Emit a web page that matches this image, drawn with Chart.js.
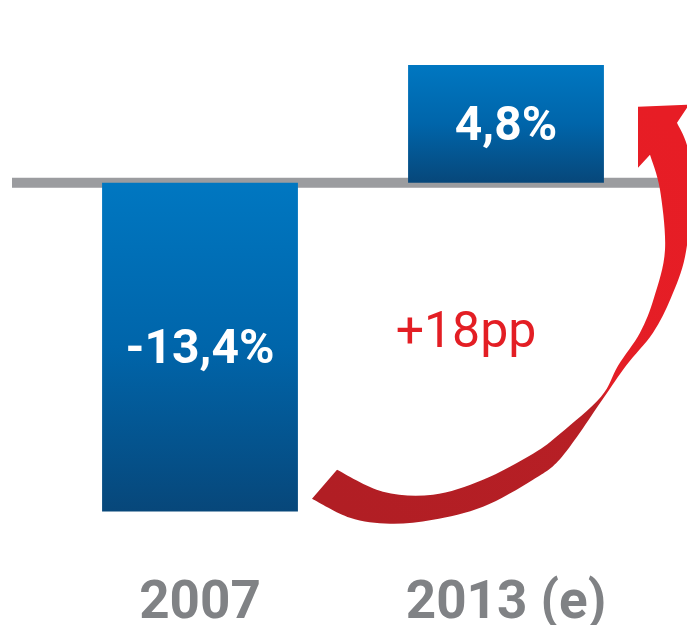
<!DOCTYPE html>
<html>
<head>
<meta charset="utf-8">
<script src="https://cdn.jsdelivr.net/npm/chart.js@4.4.1/dist/chart.umd.min.js"></script>
<style>
  html, body { margin: 0; padding: 0; background: #fff; }
  #wrap { width: 687px; height: 625px; position: relative; }
</style>
</head>
<body>
<div id="wrap"><canvas id="chart"></canvas></div>
<script>
const years = ['2007', '2013 (e)'];
const growth = [-13.4, 4.8];
const changeText = '+18pp';

const ctx = document.getElementById('chart');

function fmt(v) {
    return v.toFixed(1).replace('.', ',') + '%';
}

function barGradient(context) {
    const chart = context.chart;
    const y = chart.scales.y;
    if (!chart.chartArea || !y) return '#0072bc';
    const v = context.raw;
    const p1 = y.getPixelForValue(v), p0 = y.getPixelForValue(0);
    if (!isFinite(p1) || !isFinite(p0)) return '#0072bc';
    const g = chart.ctx.createLinearGradient(0, Math.min(p0, p1), 0, Math.max(p0, p1));
    g.addColorStop(0, '#0077c1');
    g.addColorStop(0.5, '#0065aa');
    g.addColorStop(1, '#07477a');
    return g;
}

// grey zero line, behind the bars
const zeroLine = {
    id: 'zeroLine',
    beforeDatasetsDraw(chart) {
        const c = chart.ctx;
        const a = chart.chartArea;
        const zy = chart.scales.y.getPixelForValue(0);
        c.save();
        c.fillStyle = '#9b9c9f';
        c.fillRect(a.left - 35, zy - 5, a.right - a.left + 41, 10);
        c.restore();
    }
};

// value labels inside the bars
const valueLabels = {
    id: 'valueLabels',
    afterDatasetsDraw(chart) {
        const c = chart.ctx;
        const meta = chart.getDatasetMeta(0);
        c.save();
        c.fillStyle = '#ffffff';
        c.font = 'bold 48px Roboto';
        c.textAlign = 'center';
        c.textBaseline = 'middle';
        meta.data.forEach((bar, i) => {
            c.fillText(fmt(growth[i]), bar.x, (bar.y + bar.base) / 2 + 4);
        });
        c.restore();
    }
};

// catmull-rom through the points
function spline(c, pts, first) {
    if (first) c.moveTo(pts[0][0], pts[0][1]);
    else c.lineTo(pts[0][0], pts[0][1]);
    for (let i = 0; i < pts.length - 1; i++) {
        const p0 = pts[Math.max(i - 1, 0)], p1 = pts[i], p2 = pts[i + 1];
        const p3 = pts[Math.min(i + 2, pts.length - 1)];
        c.bezierCurveTo(
            p1[0] + (p2[0] - p0[0]) / 6, p1[1] + (p2[1] - p0[1]) / 6,
            p2[0] - (p3[0] - p1[0]) / 6, p2[1] - (p3[1] - p1[1]) / 6,
            p2[0], p2[1]);
    }
}

// red curved arrow + "+18pp"
const arrow = {
    id: 'arrow',
    afterDraw(chart) {
        const c = chart.ctx;
        const a = chart.chartArea;
        const sx = a.left - 47;
        const sy = chart.scales.y.getPixelForValue(0) - 183;
        const P = p => [p[0] + sx, p[1] + sy];

        const outer = [[312,499],[350,518],[390,524],[433,520],[483,507],[533,480],[562,457],
            [603,399],[626,366],[653,333],[671,298],[685,257],[691,200],[688,150],[677,123]].map(P);
        const head = [[689,105],[638,107],[638,168]].map(P);
        const inner = [[650,155],[660,190],[665,250],[654,298],[640,333],[618,366],[601,397],
            [560,434],[533,454],[483,480],[433,495],[383,492],[337,470]].map(P);

        const g = c.createLinearGradient(330 + sx, 500 + sy, 680 + sx, 130 + sy);
        g.addColorStop(0, '#b11e24');
        g.addColorStop(0.49, '#b81f25');
        g.addColorStop(0.54, '#e41e26');
        g.addColorStop(1, '#e71d25');

        c.save();
        c.beginPath();
        spline(c, outer, true);
        head.forEach(p => c.lineTo(p[0], p[1]));
        spline(c, inner, false);
        c.closePath();
        c.fillStyle = g;
        c.fill();

        c.fillStyle = '#e31e24';
        c.font = '50px Roboto';
        c.textAlign = 'center';
        c.textBaseline = 'alphabetic';
        c.fillText(changeText, 466 + sx, 347 + sy);
        c.restore();
    }
};

new Chart(ctx, {
    type: 'bar',
    data: {
        labels: years,
        datasets: [{
            data: growth,
            backgroundColor: barGradient,
            borderWidth: 0,
            barPercentage: 0.64,
            categoryPercentage: 1
        }]
    },
    options: {
        responsive: true,
        maintainAspectRatio: false,
        animation: false,
        layout: {
            padding: { top: 11, left: 47, right: 28, bottom: 0 }
        },
        plugins: {
            legend: { display: false },
            tooltip: { enabled: false }
        },
        scales: {
            x: {
                grid: { display: false, drawTicks: false },
                border: { display: false },
                ticks: {
                    color: '#808285',
                    padding: 64,
                    font: { family: 'Roboto', size: 53, weight: 'bold', lineHeight: 1 }
                },
                afterFit: s => { s.height = 111; }
            },
            y: {
                display: false,
                min: -13.5,
                max: 7
            }
        }
    },
    plugins: [zeroLine, valueLabels, arrow]
});
</script>
</body>
</html>
